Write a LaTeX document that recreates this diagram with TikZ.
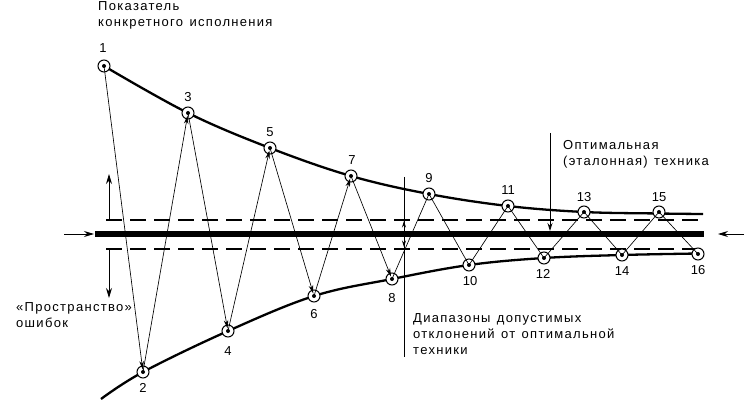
\documentclass[tikz,border=0pt]{standalone}
\usepackage{fontspec}
\setmainfont{Liberation Sans}
\newfontfamily\labfont[LetterSpace=10,WordSpace=1.3]{Liberation Sans}
\usetikzlibrary{arrows.meta}
\begin{document}
\begin{tikzpicture}[x=1pt,y=-1pt,
  ring/.style={circle,draw,fill=white,line width=1pt,minimum size=12pt,inner sep=0pt},
  num/.style={font=\fontsize{13}{15}\selectfont,inner sep=0pt,anchor=center},
  txt/.style={font=\labfont\fontsize{13}{16}\selectfont,align=left,inner sep=0pt,anchor=base west},
  zig/.style={line width=0.65pt},
  zigarr/.style={line width=0.65pt,-{Stealth[length=8.5pt,width=4.5pt]},shorten >=2.5pt},
  curve/.style={line width=2.3pt},
  dsh/.style={line width=1.2pt,dash pattern=on 16pt off 8pt},
  thinarr/.style={line width=0.9pt,-{Stealth[length=10pt,width=6pt]}}
]
\useasboundingbox (0,0) rectangle (745,401);
% coordinates of points
\coordinate (c1) at (104,66);
\coordinate (c2) at (143,372);
\coordinate (c3) at (188,113);
\coordinate (c4) at (228,331);
\coordinate (c5) at (270,148);
\coordinate (c6) at (314,296);
\coordinate (c7) at (351,176);
\coordinate (c8) at (392,279);
\coordinate (c9) at (429,194);
\coordinate (c10) at (469,265);
\coordinate (c11) at (508,206);
\coordinate (c12) at (544,258);
\coordinate (c13) at (584,212);
\coordinate (c14) at (622,255);
\coordinate (c15) at (659,212);
\coordinate (c16) at (698,254);
% curves
\draw[curve] plot[smooth,tension=0.6] coordinates {(104,66) (188,113) (270,148) (351,176) (429,194) (508,206) (584,212) (659,213.5) (703,214)};
\draw[curve] plot[smooth,tension=0.6] coordinates {(101,399) (143,372) (228,331) (314,296) (392,279) (469,265) (544,258) (622,255) (698,253.5)};
% central line and tolerance band
\coordinate (tl) at (95,234);
\coordinate (tr) at (704,234);
\draw[line width=5.5pt] (tl) -- (tr);
\coordinate (dul) at (106,220);
\coordinate (dur) at (704,220);
\coordinate (dll) at (106,249);
\coordinate (dlr) at (704,249);
\draw[dsh] (dul) -- (dur);
\draw[dsh] (dll) -- (dlr);
% side arrows
\coordinate (la0) at (64,234);
\coordinate (la1) at (94,234);
\draw[thinarr] (la0) -- (la1);
\coordinate (ra0) at (744,234);
\coordinate (ra1) at (718,234);
\draw[thinarr] (ra0) -- (ra1);
\coordinate (vu0) at (109,220);
\coordinate (vu1) at (109,174);
\draw[thinarr] (vu0) -- (vu1);
\coordinate (vd0) at (109,249);
\coordinate (vd1) at (109,298);
\draw[thinarr] (vd0) -- (vd1);
% vertical line at 404
\coordinate (vl0) at (404,177);
\coordinate (vl1) at (404,357);
\draw[line width=0.7pt] (vl0) -- (vl1);
\coordinate (vm) at (404,234);
\coordinate (vmu) at (404,221);
\coordinate (vmd) at (404,247);
\draw[line width=0.7pt,-{Stealth[length=6.5pt,width=4pt]}] (vm) -- (vmu);
\draw[line width=0.7pt,-{Stealth[length=6.5pt,width=4pt]}] (vm) -- (vmd);
% optimal arrow
\coordinate (oa0) at (550,133);
\coordinate (oa1) at (550,231);
\draw[line width=0.8pt,-{Stealth[length=8pt,width=5pt]}] (oa0) -- (oa1);
% rings
\foreach \i in {1,...,16} {\node[ring] (p\i) at (c\i) {};}
% zigzag
\draw[zigarr] (p1.center) -- (p2.center);
\draw[zigarr] (p2.center) -- (p3.center);
\draw[zigarr] (p3.center) -- (p4.center);
\draw[zigarr] (p4.center) -- (p5.center);
\draw[zigarr] (p5.center) -- (p6.center);
\draw[zigarr] (p6.center) -- (p7.center);
\draw[zigarr] (p7.center) -- (p8.center);
\draw[zig] (p8.center) -- (p9.center) -- (p10.center) -- (p11.center) -- (p12.center) -- (p13.center) -- (p14.center) -- (p15.center) -- (p16.center);
\foreach \i in {1,...,16} {\fill (p\i.center) circle (2);}
% numbers
\node[num] (n1) at (103,48) {1};
\node[num] (n3) at (188,97) {3};
\node[num] (n5) at (270,132) {5};
\node[num] (n7) at (352,160) {7};
\node[num] (n9) at (429,178) {9};
\node[num] (n11) at (508,190) {11};
\node[num] (n13) at (584,197) {13};
\node[num] (n15) at (659,197) {15};
\node[num] (n2) at (143,388) {2};
\node[num] (n4) at (228,351) {4};
\node[num] (n6) at (314,314) {6};
\node[num] (n8) at (392,298) {8};
\node[num] (n10) at (470,281) {10};
\node[num] (n12) at (543,274) {12};
\node[num] (n14) at (622,271) {14};
\node[num] (n16) at (698,270) {16};
% texts
\node[txt] (t1) at (98,27) {Показатель\\конкретного исполнения};
\node[txt] (t2) at (563,166) {Оптимальная\\(эталонная) техника};
\node[txt] (t3) at (413,354) {Диапазоны допустимых\\отклонений от оптимальной\\техники};
\node[txt] (t4) at (16,327) {«Пространство»\\ошибок};
\end{tikzpicture}
\end{document}
